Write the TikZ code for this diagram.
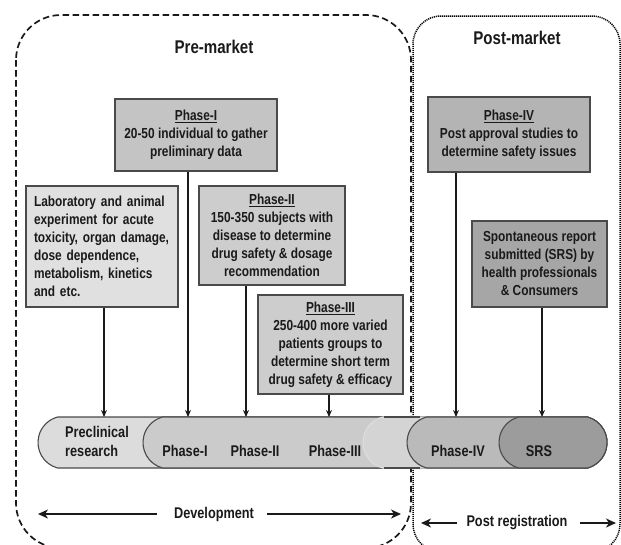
\documentclass[tikz,border=0pt]{standalone}
\usepackage{fontspec}
\setmainfont{Liberation Sans}[FakeStretch=0.82]
\usetikzlibrary{shapes.misc,arrows.meta}
\definecolor{cLab}{HTML}{E0E0E0}
\definecolor{cPone}{HTML}{C4C4C4}
\definecolor{cPtwo}{HTML}{CDCDCD}
\definecolor{cPfour}{HTML}{B4B4B4}
\definecolor{cSRSbox}{HTML}{A6A6A6}
\definecolor{cSa}{HTML}{DCDCDC}
\definecolor{cSb}{HTML}{CBCBCB}
\definecolor{cSc}{HTML}{D4D4D4}
\definecolor{cSd}{HTML}{BABABA}
\definecolor{cSe}{HTML}{9C9C9C}
\definecolor{cBorder}{HTML}{4A4A4A}
\definecolor{cInk}{HTML}{1A1A1A}
\tikzset{
  infobox/.style={draw=cBorder, line width=1.1pt, inner sep=0pt, align=center,
    text=cInk, font=\bfseries\fontsize{14.5}{18}\selectfont},
  seg/.style={rounded rectangle, rounded rectangle arc length=150, draw=cBorder,
    line width=1.1pt, minimum height=51, inner sep=0pt},
  barlabel/.style={text=cInk, font=\bfseries\fontsize{15.5}{19}\selectfont, inner sep=0pt},
  title/.style={text=cInk, font=\bfseries\fontsize{18.4}{22}\selectfont, inner sep=0pt},
  arr/.style={draw=cInk, line width=1.3pt, -{Stealth[length=7pt,width=6pt]}},
  bigarr/.style={draw=cInk, line width=1.5pt, -{Stealth[length=10pt,width=9pt,inset=3pt]}},
}
\begin{document}
\begin{tikzpicture}[x=1pt,y=-1pt]
\useasboundingbox (0,0) rectangle (621,544);
\clip (0,0) rectangle (621,544);
\fill[white] (0,0) rectangle (621,544);
% regions
\draw[cInk, line width=1.7pt, dash pattern=on 6.5pt off 3.5pt, rounded corners=45]
  (16,15) rectangle (411,548);
\draw[black, line width=1.5pt, dash pattern=on 1.1pt off 0.9pt, rounded corners=28]
  (413,16) rectangle (620,552);
\node[title] (pre) at (214,47) {Pre-market};
\node[title] (post) at (517,38) {Post-market};
% timeline bar
\node[seg, fill=cSa, minimum width=569] (s0) at (322.5,442.5) {};
\node[seg, fill=cSb, minimum width=464] (s1) at (375,442.5) {};
\node[seg, fill=cSc, draw=cSc!80!white, minimum width=244] (s2) at (485,442.5) {};
\draw[cBorder, line width=1.1pt] (384,417) -- (420,417) (384,468) -- (420,468);
\node[seg, fill=cSd, minimum width=200] (s3) at (507,442.5) {};
\node[seg, fill=cSe, minimum width=108] (s4) at (553,442.5) {};
\node[barlabel, align=left, anchor=west] (lpre) at (65,441.5) {Preclinical\\research};
\node[barlabel] (lp1) at (185,451) {Phase-I};
\node[barlabel] (lp2) at (255,451) {Phase-II};
\node[barlabel] (lp3) at (335,451) {Phase-III};
\node[barlabel] (lp4) at (458,451) {Phase-IV};
\node[barlabel] (lsrs) at (539,451) {SRS};
% boxes
\node[infobox, fill=cPone, minimum width=162, minimum height=72] (p1box) at (196,135)
  {\underline{Phase-I}\\20-50 individual to gather\\preliminary data};
\node[infobox, fill=cPfour, minimum width=162, minimum height=75] (p4box) at (509,134.5)
  {\underline{Phase-IV}\\Post approval studies to\\determine safety issues};
\node[infobox, fill=cLab, minimum width=152, minimum height=121, text width=136, align=left] (lab) at (102,246.5)
  {Laboratory and animal\\experiment for acute\\toxicity, organ damage,\\dose dependence,\\metabolism, kinetics\\and etc.};
\node[infobox, fill=cPtwo, minimum width=146, minimum height=99] (p2box) at (272,235.5)
  {\underline{Phase-II}\\150-350 subjects with\\disease to determine\\drug safety \& dosage\\recommendation};
\node[infobox, fill=cPtwo, minimum width=145, minimum height=99] (p3box) at (330.5,344.5)
  {\underline{Phase-III}\\250-400 more varied\\patients groups to\\determine short term\\drug safety \& efficacy};
\node[infobox, fill=cSRSbox, minimum width=135, minimum height=86] (srsbox) at (539.5,264)
  {Spontaneous report\\submitted (SRS) by\\health professionals\\\& Consumers};
% arrow targets on bar top
\coordinate (tLab) at (104,417);
\coordinate (tP1) at (188,417);
\coordinate (tP2) at (246,417);
\coordinate (tP3) at (329,417);
\coordinate (tP4) at (456,417);
\coordinate (tSRS) at (542,417);
\draw[arr] (lab.south -| tLab) -- (tLab);
\draw[arr] (p1box.south -| tP1) -- (tP1);
\draw[arr] (p2box.south -| tP2) -- (tP2);
\draw[arr] (p3box.south -| tP3) -- (tP3);
\draw[arr] (p4box.south -| tP4) -- (tP4);
\draw[arr] (srsbox.south -| tSRS) -- (tSRS);
% bottom spans
\node[barlabel] (dev) at (214,514) {Development};
\coordinate (devL) at (38,514);
\coordinate (devR) at (401,514);
\draw[bigarr] ([xshift=-17pt]dev.west) -- (devL);
\draw[bigarr] ([xshift=13pt]dev.east) -- (devR);
\node[barlabel] (postreg) at (517,523) {Post registration};
\coordinate (prL) at (421,523);
\coordinate (prR) at (616,523);
\draw[bigarr] ([xshift=-9pt]postreg.west) -- (prL);
\draw[bigarr] ([xshift=12pt]postreg.east) -- (prR);
\end{tikzpicture}
\end{document}
